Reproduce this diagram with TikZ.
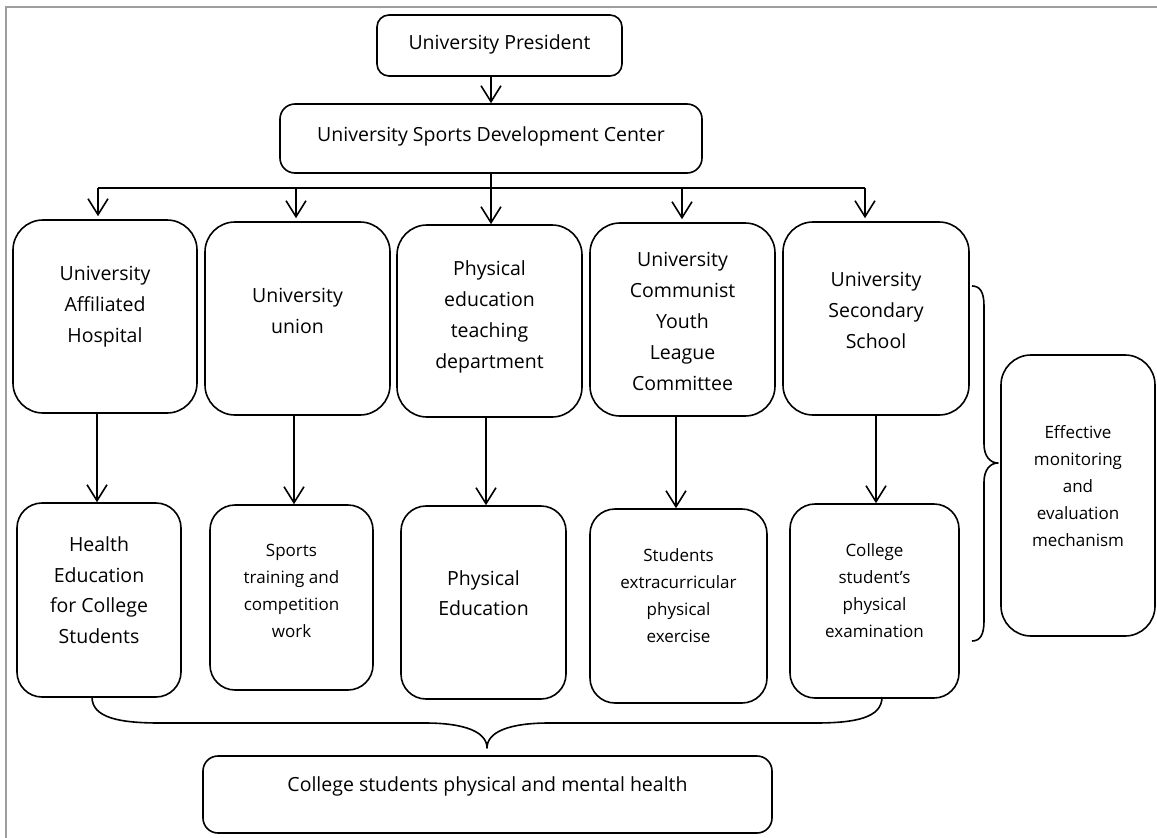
\documentclass[tikz,border=0pt]{standalone}
\usepackage{fontspec}
\setmainfont{Open Sans}
\usetikzlibrary{arrows.meta,calc}
\begin{document}
\begin{tikzpicture}[x=1pt,y=-1pt,
  line/.style={line width=1.6pt, line join=round},
  box/.style={draw, line width=1.6pt, rounded corners=#1, inner sep=0pt},
  big/.style={align=center, font=\fontsize{19.5}{31}\selectfont, inner sep=0pt},
  small/.style={align=center, font=\fontsize{17}{27}\selectfont, inner sep=0pt},
  arr/.style={line, -{Straight Barb[length=16pt,width=20pt]}},
  frame/.style={draw=black!38, line width=1.2pt}
]
\useasboundingbox (0,0) rectangle (1157,838);
\draw[frame] (6,838) -- (6,7) -- (1157,7);

% top boxes
\node[box=12pt, minimum width=245pt, minimum height=61pt] (pres) at (499.5,45.5) {};
\node[big] (prest) at (499.5,44) {University President};
\node[box=15pt, minimum width=422pt, minimum height=69pt] (sdc) at (491,138.5) {};
\node[big] (sdct) at (491,136) {University Sports Development Center};

% first row
\node[box=30pt, minimum width=184pt, minimum height=193pt] (a1) at (105,316.5) {};
\node[big] (a1t) at (105,307) {University\\Affiliated\\Hospital};
\node[box=30pt, minimum width=185pt, minimum height=193pt] (a2) at (297.5,318.5) {};
\node[big] (a2t) at (297.5,311) {University\\union};
\node[box=30pt, minimum width=185pt, minimum height=192pt] (a3) at (489.5,321) {};
\node[big] (a3t) at (489.5,317) {Physical\\education\\teaching\\department};
\node[box=30pt, minimum width=185pt, minimum height=193pt] (a4) at (682.5,319.5) {};
\node[big] (a4t) at (682.5,321) {University\\Communist\\Youth\\League\\Committee};
\node[box=30pt, minimum width=186pt, minimum height=193pt] (a5) at (876,318.5) {};
\node[big] (a5t) at (876,310) {University\\Secondary\\School};

% second row
\node[box=25pt, minimum width=164pt, minimum height=194pt] (b1) at (99,600) {};
\node[big, font=\fontsize{19.5}{30.5}\selectfont] (b1t) at (99,590) {Health\\Education\\for College\\Students};
\node[box=25pt, minimum width=163pt, minimum height=185pt] (b2) at (291.5,597.5) {};
\node[small] (b2t) at (291.5,591) {Sports\\training and\\competition\\work};
\node[box=25pt, minimum width=165pt, minimum height=193pt] (b3) at (483.5,602.5) {};
\node[big, font=\fontsize{19.5}{30}\selectfont] (b3t) at (483.5,593) {Physical\\Education};
\node[box=25pt, minimum width=177pt, minimum height=194pt] (b4) at (678.5,606) {};
\node[small] (b4t) at (678.5,596) {Students\\extracurricular\\physical\\exercise};
\node[box=25pt, minimum width=169pt, minimum height=194pt] (b5) at (874.5,601) {};
\node[small] (b5t) at (874.5,591) {College\\student’s\\physical\\examination};

% right box
\node[box=30pt, minimum width=154pt, minimum height=281pt] (eff) at (1078,495.5) {};
\node[small] (efft) at (1078,486) {Effective\\monitoring\\and\\evaluation\\mechanism};

% bottom box
\node[box=15pt, minimum width=569pt, minimum height=77pt] (bot) at (487.5,794.5) {};
\node[big] (bott) at (487.5,786) {College students physical and mental health};

% connectors
\draw[arr] (pres.south -| sdc.north) -- (sdc.north);
\coordinate (bl) at (98,188);
\coordinate (br) at (865,188);
\coordinate (b2x) at (296,188);
\coordinate (b4x) at (682,188);
\draw[line] (bl) -- (br);
\draw[arr] (bl) -- ([yshift=3pt]bl |- a1.north);
\draw[arr] (b2x) -- ([yshift=3pt]b2x |- a2.north);
\draw[arr] (sdc.south) -- (sdc.south |- a3.north);
\draw[arr] (b4x) -- ([yshift=3pt]b4x |- a4.north);
\draw[arr] (br) -- ([yshift=3pt]br |- a5.north);

\coordinate (v1) at (97,0);
\coordinate (v2) at (294,0);
\coordinate (v3) at (486,0);
\coordinate (v4) at (676,0);
\coordinate (v5) at (876,0);
\draw[arr] (v1 |- a1.south) -- (v1 |- b1.north);
\draw[arr] (v2 |- a2.south) -- (v2 |- b2.north);
\draw[arr] (v3 |- a3.south) -- (v3 |- b3.north);
\draw[arr] (v4 |- a4.south) -- (v4 |- b4.north);
\draw[arr] (v5 |- a5.south) -- (v5 |- b5.north);

% bottom brace
\coordinate (bbl) at (92,697);
\coordinate (bbr) at (882,697);
\coordinate (bbt) at (487,748);
\draw[line] (bbl) .. controls (92,718) and (120,723) .. (160,723) -- (425,723)
  .. controls (465,723) and (487,732) .. (bbt)
  .. controls (487,732) and (509,723) .. (549,723) -- (815,723)
  .. controls (855,723) and (882,718) .. (bbr);

% right brace
\coordinate (rbt) at (972,286);
\coordinate (rbb) at (972,641);
\coordinate (rbm) at (998,463);
\draw[line] (rbt) .. controls (980,286) and (984,292) .. (984,306) -- (984,444)
  .. controls (984,456) and (990,463) .. (rbm)
  .. controls (990,463) and (984,470) .. (984,482) -- (984,621)
  .. controls (984,635) and (980,641) .. (rbb);
\end{tikzpicture}
\end{document}
